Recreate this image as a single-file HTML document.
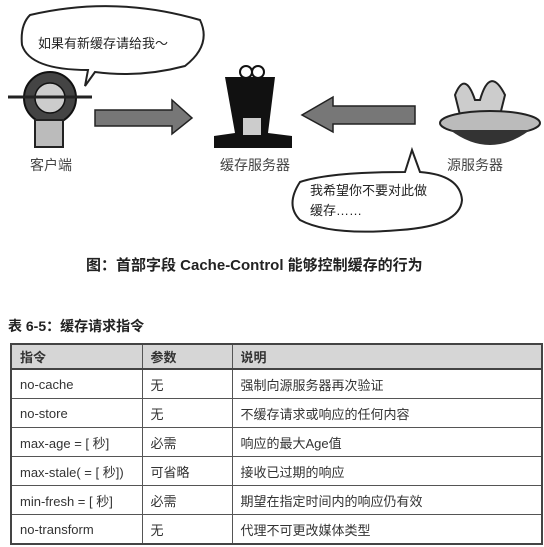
<!DOCTYPE html>
<html><head><meta charset="utf-8"><style>
body{margin:0;width:544px;height:547px;background:#fff;position:relative;font-family:"Liberation Sans","Noto Sans CJK SC",sans-serif;color:#222;overflow:hidden}
.t{position:absolute;white-space:nowrap}
table{position:absolute;left:10px;top:343px;width:533px;border-collapse:collapse;font-size:13px}
td{border:1px solid #555;height:28px;padding:0 0 0 8px;color:#333}
tr.h td{background:#d6d6d6;font-weight:bold;height:23px;border-bottom:2px solid #444}
table{border:2px solid #444}
</style></head><body>
<svg width="544" height="260" style="position:absolute;left:0;top:0">
<path d="M30 15 Q115 -5 200 20 Q212 45 185 66 Q140 78 95 72 L85 86 L88 70 Q30 70 22 45 Q20 25 30 15Z" fill="#fff" stroke="#222" stroke-width="2"/>
<path d="M310 178 Q380 165 455 180 Q470 200 450 222 Q380 236 310 225 Q285 210 295 190 Q305 180 325 178 Q400 168 412 158 L420 150 Q425 160 420 175Z" fill="none" stroke="none"/>
<path d="M300 182 Q330 172 405 172 L412 150 L420 172 Q460 175 462 200 Q460 226 400 230 Q330 236 300 220 Q285 205 300 182Z" fill="#fff" stroke="#222" stroke-width="2"/>
<!-- client robot -->
<circle cx="50" cy="98" r="26" fill="#444" stroke="#111" stroke-width="2"/>
<circle cx="50" cy="98" r="15" fill="#ccc" stroke="#111" stroke-width="1.5"/>
<line x1="8" y1="97" x2="92" y2="97" stroke="#222" stroke-width="3"/>
<rect x="35" y="120" width="28" height="27" fill="#bbb" stroke="#222" stroke-width="2"/>
<!-- right arrow -->
<path d="M95 110 L172 110 L172 100 L192 118 L172 134 L172 126 L95 126Z" fill="#777" stroke="#222" stroke-width="1.5"/>
<!-- cache hat -->
<circle cx="246" cy="72" r="6" fill="#fff" stroke="#111" stroke-width="2"/>
<circle cx="258" cy="72" r="6" fill="#fff" stroke="#111" stroke-width="2"/>
<path d="M225 77 L275 77 L268 133 L292 136 L292 148 L214 148 L214 136 L235 133Z" fill="#111"/>
<rect x="243" y="118" width="18" height="17" fill="#ccc"/>
<!-- left arrow -->
<path d="M415 106 L333 106 L333 97 L302 115 L333 132 L333 124 L415 124Z" fill="#777" stroke="#222" stroke-width="1.5"/>
<!-- ufo -->
<path d="M455 95 Q465 70 475 100 L480 100 Q490 65 505 95 L500 115 L460 115Z" fill="#ccc" stroke="#222" stroke-width="2"/>
<ellipse cx="490" cy="123" rx="50" ry="12" fill="#bbb" stroke="#222" stroke-width="2"/>
<path d="M450 130 Q490 160 530 130Z" fill="#333"/>
</svg>
<div class="t" style="left:38px;top:33px;font-size:13px">如果有新缓存请给我～</div>
<div class="t" style="left:310px;top:180px;font-size:13px">我希望你不要对此做</div>
<div class="t" style="left:310px;top:200px;font-size:13px">缓存……</div>
<div class="t" style="left:30px;top:155px;font-size:14px;color:#444">客户端</div>
<div class="t" style="left:220px;top:155px;font-size:14px;color:#444">缓存服务器</div>
<div class="t" style="left:447px;top:155px;font-size:14px;color:#444">源服务器</div>
<div class="t" style="left:86px;top:254px;font-size:15px;font-weight:bold">图：首部字段 Cache-Control 能够控制缓存的行为</div>
<div class="t" style="left:8px;top:316px;font-size:14px;font-weight:bold">表 6-5：缓存请求指令</div>
<table>
<col style="width:131px"><col style="width:90px"><col>
<tr class="h"><td>指令</td><td>参数</td><td>说明</td></tr>
<tr><td>no-cache</td><td>无</td><td>强制向源服务器再次验证</td></tr>
<tr><td>no-store</td><td>无</td><td>不缓存请求或响应的任何内容</td></tr>
<tr><td>max-age = [ 秒]</td><td>必需</td><td>响应的最大Age值</td></tr>
<tr><td>max-stale( = [ 秒])</td><td>可省略</td><td>接收已过期的响应</td></tr>
<tr><td>min-fresh = [ 秒]</td><td>必需</td><td>期望在指定时间内的响应仍有效</td></tr>
<tr><td>no-transform</td><td>无</td><td>代理不可更改媒体类型</td></tr>
</table>
</body></html>
